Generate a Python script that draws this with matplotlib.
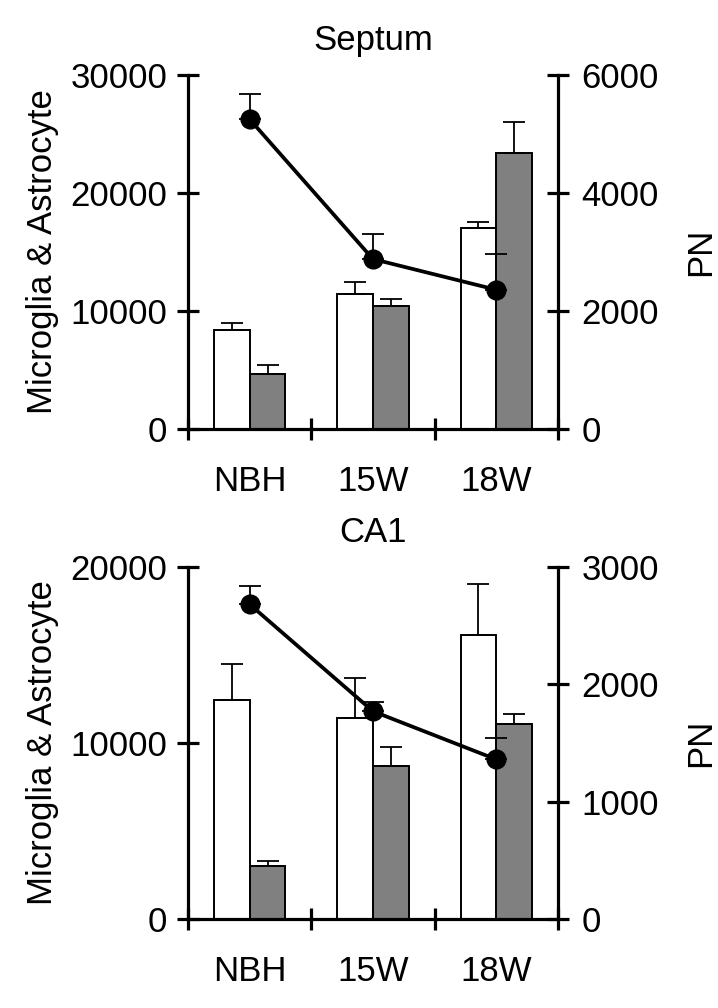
import matplotlib.pyplot as plt
import numpy as np

plt.rcParams['font.family'] = ['Liberation Sans', 'DejaVu Sans']

# groups
groups = ['NBH', '15W', '18W']

# Septum
sep_micro = [8400, 11400, 17000]
sep_micro_err = [570, 1100, 570]
sep_astro = [4650, 10450, 23400]
sep_astro_err = [740, 570, 2650]
sep_pn = [5250, 2880, 2360]
sep_pn_err = [420, 420, 600]

# CA1
ca1_micro = [12450, 11400, 16100]
ca1_micro_err = [2050, 2300, 2900]
ca1_astro = [3050, 8700, 11050]
ca1_astro_err = [230, 1100, 620]
ca1_pn = [2680, 1770, 1360]
ca1_pn_err = [155, 77, 185]

panels = [
    ('Septum', sep_micro, sep_micro_err, sep_astro, sep_astro_err, sep_pn, sep_pn_err,
     [0, 10000, 20000, 30000], [0, 2000, 4000, 6000]),
    ('CA1', ca1_micro, ca1_micro_err, ca1_astro, ca1_astro_err, ca1_pn, ca1_pn_err,
     [0, 10000, 20000], [0, 1000, 2000, 3000]),
]

fig = plt.figure(figsize=(7.18, 10.08), dpi=100)
rects = [[0.2618, 0.5744, 0.5153, 0.3512], [0.2618, 0.0880, 0.5153, 0.3498]]

x = np.arange(len(groups))
w = 0.29
fs = 25
lw = 2.3
tl = 16

for rect, (title, micro, micro_err, astro, astro_err, pn, pn_err, lt, rt) in zip(rects, panels):
    ax = fig.add_axes(rect)
    ax.bar(x - w / 2, micro, w, color='white', edgecolor='black', linewidth=1.4,
           yerr=[np.zeros(3), micro_err], error_kw=dict(ecolor='black', elinewidth=1.3, capsize=8, capthick=1.3))
    ax.bar(x + w / 2, astro, w, color='#808080', edgecolor='black', linewidth=1.4,
           yerr=[np.zeros(3), astro_err], error_kw=dict(ecolor='black', elinewidth=1.3, capsize=8, capthick=1.3))
    ax.set_xlim(-0.5, 2.5)
    ax.set_ylim(lt[0], lt[-1])
    ax.set_yticks(lt)
    ax.set_xticks(x)
    ax.set_xticklabels(groups, fontsize=fs)
    ax.set_xticks([-0.5, 0.5, 1.5, 2.5], minor=True)
    ax.tick_params(axis='x', which='major', length=0, pad=26)
    ax.tick_params(axis='x', which='minor', direction='inout', length=tl, width=lw)
    ax.tick_params(axis='y', direction='inout', length=tl, width=lw, labelsize=fs, pad=7)
    ax.set_ylabel('Microglia & Astrocyte', fontsize=fs, labelpad=8)
    ax.set_title(title, fontsize=fs, pad=18)
    for s in ['top', 'right']:
        ax.spines[s].set_visible(False)
    for s in ['left', 'bottom']:
        ax.spines[s].set_linewidth(lw)

    ax2 = ax.twinx()
    ax2.errorbar(x, pn, yerr=[np.zeros(3), pn_err], color='black', linewidth=2.7,
                 marker='o', markersize=13.5, ecolor='black', elinewidth=1.3, capsize=8, capthick=1.3)
    ax2.set_ylim(rt[0], rt[-1])
    ax2.set_yticks(rt)
    ax2.tick_params(axis='y', direction='inout', length=tl, width=lw, labelsize=fs, pad=9)
    ax2.set_ylabel('PN', fontsize=fs, labelpad=18)
    for s in ['top', 'left', 'bottom']:
        ax2.spines[s].set_visible(False)
    ax2.spines['right'].set_linewidth(lw)

fig.savefig('out.png', dpi=100)
